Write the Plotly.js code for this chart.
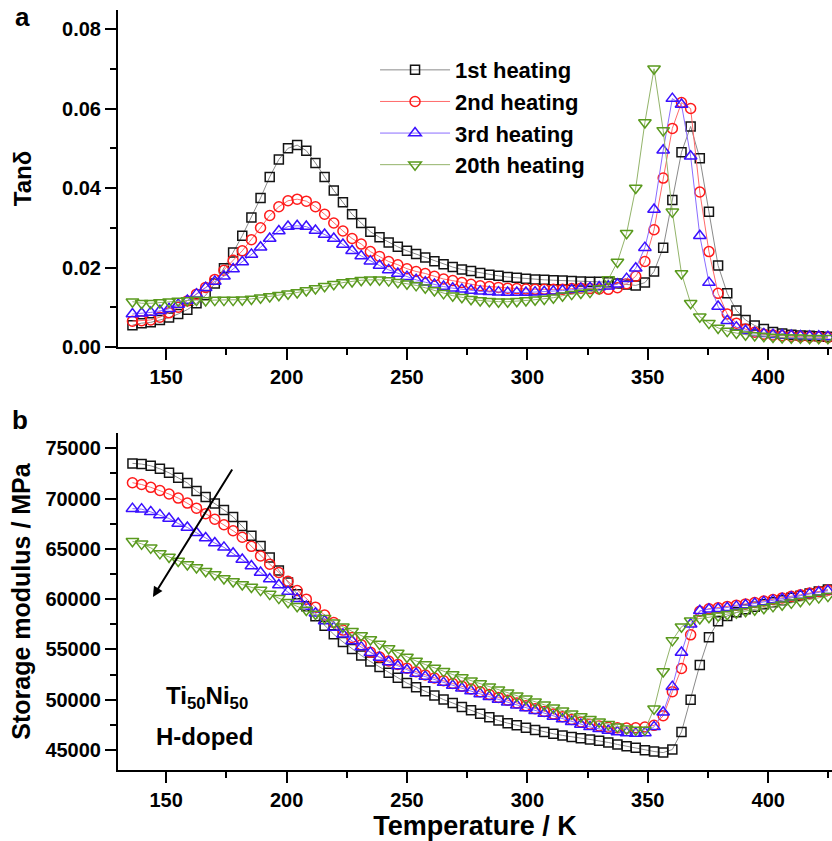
<!DOCTYPE html>
<html><head><meta charset="utf-8">
<script src="https://cdn.plot.ly/plotly-3.0.1.min.js"></script>
<style>html,body{margin:0;padding:0;background:#fff}#chart{width:832px;height:841px}</style>
</head><body><div id="chart"></div>
<script>
// Temperature (K)
const temperature = [136.0,139.8,143.6,147.4,151.2,155.0,158.8,162.6,166.4,170.2,
174.0,177.8,181.6,185.4,189.2,193.0,196.8,200.6,204.4,208.2,
212.0,215.8,219.6,223.4,227.2,231.0,234.8,238.6,242.4,246.2,
250.0,253.8,257.6,261.4,265.2,269.0,272.8,276.6,280.4,284.2,
288.0,291.8,295.6,299.4,303.2,307.0,310.8,314.6,318.4,322.2,
326.0,329.8,333.6,337.4,341.2,345.0,348.8,352.6,356.4,360.2,
364.0,367.8,371.6,375.4,379.2,383.0,386.8,390.6,394.4,398.2,
402.0,405.8,409.6,413.4,417.2,421.0,424.8];

// Tan delta
const tan1st = [.0055,.0060,.0062,.0068,.0074,.0083,.0094,.0110,.0130,.0160,
.0198,.0238,.0280,.0326,.0375,.0428,.0472,.0500,.0508,.0494,
.0463,.0428,.0394,.0364,.0334,.0312,.0290,.0276,.0263,.0252,
.0242,.0234,.0225,.0216,.0208,.0201,.0195,.0191,.0186,.0182,
.0179,.0176,.0174,.0172,.0170,.0169,.0168,.0167,.0166,.0165,
.0164,.0164,.0163,.0160,.0157,.0155,.0162,.0190,.0250,.0370,
.0490,.0555,.0475,.0340,.0205,.0135,.0092,.0068,.0054,.0045,
.0038,.0034,.0031,.0029,.0028,.0027,.0026];
const tan2nd = [.0065,.0066,.0068,.0075,.0086,.0100,.0116,.0133,.0150,.0170,
.0193,.0218,.0242,.0270,.0300,.0331,.0353,.0368,.0372,.0367,
.0353,.0334,.0312,.0292,.0273,.0259,.0240,.0228,.0215,.0207,
.0197,.0190,.0185,.0178,.0171,.0167,.0162,.0158,.0154,.0152,
.0150,.0148,.0147,.0146,.0145,.0145,.0145,.0145,.0147,.0148,
.0147,.0146,.0145,.0149,.0159,.0178,.0215,.0295,.0425,.0550,
.0615,.0600,.0390,.0240,.0135,.0083,.0060,.0045,.0037,.0032,
.0030,.0028,.0027,.0026,.0025,.0025,.0024];
const tan3rd = [.0083,.0085,.0087,.0091,.0096,.0107,.0117,.0133,.0149,.0165,
.0178,.0196,.0214,.0233,.0251,.0273,.0292,.0303,.0305,.0303,
.0293,.0283,.0273,.0258,.0242,.0229,.0216,.0205,.0194,.0185,
.0177,.0169,.0163,.0157,.0152,.0148,.0145,.0142,.0140,.0139,
.0138,.0137,.0137,.0137,.0138,.0139,.0140,.0142,.0144,.0147,
.0149,.0151,.0153,.0158,.0172,.0198,.0250,.0346,.0495,.0625,
.0610,.0480,.0280,.0162,.0102,.0066,.0050,.0041,.0036,.0033,
.0031,.0030,.0029,.0028,.0027,.0027,.0026];
const tan20th = [.0114,.0110,.0110,.0112,.0114,.0116,.0117,.0118,.0117,.0118,
.0118,.0118,.0119,.0121,.0124,.0127,.0130,.0134,.0137,.0142,
.0147,.0153,.0158,.0162,.0165,.0168,.0169,.0169,.0167,.0163,
.0159,.0155,.0149,.0142,.0135,.0129,.0125,.0120,.0117,.0115,
.0114,.0114,.0115,.0117,.0119,.0121,.0124,.0129,.0133,.0136,
.0138,.0147,.0170,.0214,.0286,.0400,.0565,.0700,.0545,.0340,
.0185,.0110,.0076,.0060,.0048,.0040,.0035,.0031,.0029,.0027,
.0025,.0024,.0023,.0023,.0022,.0022,.0022];

// Storage modulus (MPa)
const mod1st = [73500,73430,73260,72960,72560,72060,71560,70750,70150,69500,
68870,68180,67270,66300,65280,64150,62860,61650,60480,59300,
58300,57350,56500,55750,55050,54400,53800,53250,52680,52180,
51650,51250,50830,50420,50010,49670,49270,48950,48610,48260,
47930,47670,47450,47220,47000,46780,46610,46450,46290,46180,
46050,45910,45750,45550,45380,45220,44980,44850,44740,45050,
46800,50000,53450,56200,57800,58330,58700,59000,59250,59500,
59700,59900,60150,60350,60550,60750,60950];
const mod2nd = [71580,71400,71120,70800,70450,70050,69550,69050,68500,67950,
67400,66800,66150,65250,64300,63480,62650,61780,60850,60000,
59200,58420,57680,56920,56180,55460,54730,54250,53850,53500,
53130,52780,52460,52160,51880,51610,51350,51070,50790,50510,
50230,49950,49670,49390,49110,48840,48570,48300,48040,47790,
47560,47380,47260,47200,47180,47200,47280,47450,48400,50800,
53100,56450,58800,59050,59150,59280,59400,59530,59670,59820,
59970,60120,60280,60440,60600,60760,60900];
const mod3rd = [69000,68950,68680,68380,68020,67520,67130,66600,66080,65580,
65150,64560,63950,63300,62650,62000,61400,60750,60050,59280,
58600,57830,57180,56500,55850,55230,54680,54200,53750,53350,
52950,52610,52300,52000,51700,51420,51140,50860,50580,50300,
50020,49740,49460,49180,48900,48620,48340,48070,47800,47540,
47300,47100,46930,46800,46700,46650,46700,47300,48750,51300,
54700,57500,58850,59000,59050,59150,59280,59420,59570,59720,
59880,60040,60200,60360,60520,60680,60830];
const mod20th = [65750,65500,65100,64550,64200,63800,63450,63150,62780,62450,
62050,61750,61450,61200,60900,60500,60100,59700,59300,58920,
58520,58100,57650,57250,56800,56380,55980,55550,55100,54650,
54250,53850,53500,53150,52820,52500,52200,51890,51600,51300,
51000,50700,50400,50100,49800,49500,49200,48900,48600,48330,
48050,47800,47550,47300,47100,47000,47000,49100,52800,55900,
57250,57850,58080,58200,58350,58500,58650,58800,58950,59100,
59280,59450,59630,59800,59980,60150,60300];

const seriesNames = ['1st heating','2nd heating','3rd heating','20th heating'];
const tanData = [tan1st, tan2nd, tan3rd, tan20th];
const modData = [mod1st, mod2nd, mod3rd, mod20th];

// Tick labels
const tempTicks = [150, 200, 250, 300, 350, 400];
const tanTicks = [0, 0.02, 0.04, 0.06, 0.08];
const tanTickText = ['0.00', '0.02', '0.04', '0.06', '0.08'];
const modTicks = [45000, 50000, 55000, 60000, 65000, 70000, 75000];

const bold = v => '<b>' + v + '</b>';

const FONT = 'Liberation Sans, Arial, Helvetica, sans-serif';
const styles = [
  {symbol:'square-open', mcolor:'#141414', lcolor:'#8a8a8a', size:9},
  {symbol:'circle-open', mcolor:'#ff1a1a', lcolor:'#ff6a6a', size:10},
  {symbol:'triangle-up-open', mcolor:'#3a10ff', lcolor:'#8a6cff', size:11},
  {symbol:'triangle-down-open', mcolor:'#5a9a1e', lcolor:'#93b46a', size:11}
];

const traces = [];
seriesNames.forEach((name, i) => {
  const st = styles[i];
  traces.push({
    type:'scatter', mode:'lines+markers', name:name, legendgroup:name,
    x: temperature, y: tanData[i], xaxis:'x', yaxis:'y',
    line:{color:st.lcolor, width:1},
    marker:{symbol:st.symbol, size:st.size, color:st.mcolor, line:{width:1.5, color:st.mcolor}}
  });
});
seriesNames.forEach((name, i) => {
  const st = styles[i];
  traces.push({
    type:'scatter', mode:'lines+markers', name:name, legendgroup:name, showlegend:false,
    x: temperature, y: modData[i], xaxis:'x2', yaxis:'y2',
    line:{color:st.lcolor, width:1},
    marker:{symbol:st.symbol, size:st.size, color:st.mcolor, line:{width:1.5, color:st.mcolor}}
  });
});

const tickFont = {family:FONT, size:20, color:'#000', weight:700};
const baseAxis = {
  ticks:'outside', ticklen:11, tickwidth:2, tickcolor:'#000',
  showline:true, linewidth:2, linecolor:'#000',
  showgrid:false, zeroline:false, tickfont:tickFont
};
const minorX = {dtick:25, tick0:0, ticks:'outside', ticklen:6, tickwidth:2, tickcolor:'#000', showgrid:false};
const xr = [130, 426.5];

const layout = {
  width:832, height:841,
  margin:{l:118, r:0, t:10, b:71},
  paper_bgcolor:'#fff', plot_bgcolor:'#fff',
  font:{family:FONT, color:'#000'},
  showlegend:true,
  legend:{x:0.36, y:0.9486, xanchor:'left', yanchor:'top', bgcolor:'rgba(0,0,0,0)',
    font:{family:FONT, size:22, color:'#000', weight:700}, itemwidth:70, tracegroupgap:0},
  xaxis:Object.assign({}, baseAxis, {domain:[0,1], anchor:'y', range:xr,
    tickmode:'array', tickvals:tempTicks, ticktext:tempTicks.map(bold), minor:minorX}),
  yaxis:Object.assign({}, baseAxis, {domain:[0.5566,1], anchor:'x', range:[0,0.0848],
    tickmode:'array', tickvals:tanTicks, ticktext:tanTickText.map(bold),
    minor:{dtick:0.01, tick0:0, ticks:'outside', ticklen:6, tickwidth:2, tickcolor:'#000', showgrid:false},
    title:{text:'Tanδ', font:{family:FONT, size:24, color:'#000', weight:700}, standoff:24}}),
  xaxis2:Object.assign({}, baseAxis, {domain:[0,1], anchor:'y2', range:xr,
    tickmode:'array', tickvals:tempTicks, ticktext:tempTicks.map(bold), minor:minorX,
    title:{text:'Temperature / K', font:{family:FONT, size:27, color:'#000', weight:700}, standoff:6}}),
  yaxis2:Object.assign({}, baseAxis, {domain:[0,0.4434], anchor:'x2', range:[43010,76520],
    tickmode:'array', tickvals:modTicks, ticktext:modTicks.map(bold),
    minor:{dtick:2500, tick0:0, ticks:'outside', ticklen:6, tickwidth:2, tickcolor:'#000', showgrid:false},
    title:{text:'Storage modulus / MPa', font:{family:FONT, size:25, color:'#000', weight:700}, standoff:8}}),
  annotations:[
    {xref:'paper', yref:'paper', x:-0.134, y:0.9908, xanchor:'center', yanchor:'middle', showarrow:false,
     text:'<b>a</b>', font:{family:FONT, size:26, color:'#000'}},
    {xref:'paper', yref:'paper', x:-0.137, y:0.4605, xanchor:'center', yanchor:'middle', showarrow:false,
     text:'<b>b</b>', font:{family:FONT, size:26, color:'#000'}},
    {xref:'x2', yref:'y2', x:167, y:50170, showarrow:false,
     text:'<b>Ti<sub>50</sub>Ni<sub>50</sub></b>', font:{family:FONT, size:24, color:'#000'}},
    {xref:'x2', yref:'y2', x:166, y:46300, showarrow:false,
     text:'<b>H-doped</b>', font:{family:FONT, size:24, color:'#000'}},
    {xref:'x2', yref:'y2', axref:'x2', ayref:'y2', x:144.5, y:60220, ax:177.8, ay:73040,
     text:'', showarrow:true, arrowhead:2, arrowsize:1, arrowwidth:2, arrowcolor:'#000'}
  ]
};

Plotly.newPlot('chart', traces, layout, {displayModeBar:false, staticPlot:true});
</script>
</body></html>
